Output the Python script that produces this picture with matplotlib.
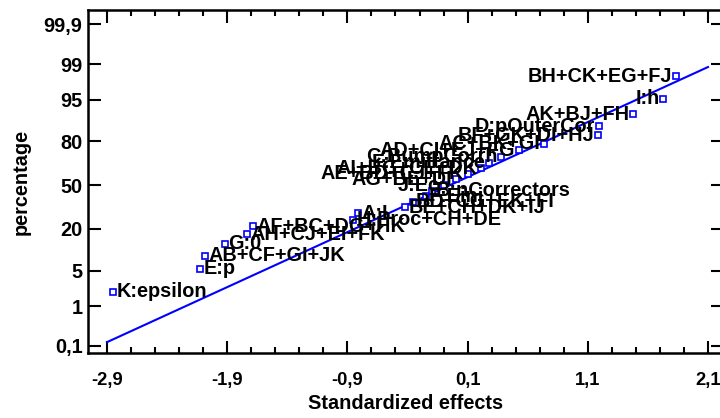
import math
import numpy as np
import matplotlib
matplotlib.use("Agg")
import matplotlib.pyplot as plt
from matplotlib.ticker import MultipleLocator, NullLocator

# ---------------- data ----------------
effects = [-2.85, -2.125, -2.083, -1.917, -1.733, -1.683, -0.85, -0.808,
           -0.417, -0.358, -0.25, -0.192, -0.10, 0.0, 0.10, 0.208, 0.275,
           0.375, 0.525, 0.733, 1.183, 1.19, 1.475, 1.725, 1.833]
percents = [2.0, 5.4, 8.7, 12.9, 17.1, 21.3, 25.3, 29.3, 33.4, 37.4, 41.5,
            45.5, 50.0, 54.5, 58.6, 62.6, 66.6, 70.7, 74.7, 78.8, 83.0,
            87.2, 91.3, 95.2, 98.2]
labels = ["K:epsilon", "E:p", "AB+CF+GI+JK", "G:0", "AH+CJ+EI+FK",
          "AF+BC+DG+HK", "H:Proc+CH+DE", "A:L", "BE+CH+DK+IJ",
          "BD+CG+EK+FI", "F:Einj", "B:nCorrectors", "J:Ec", "AG+BE+DI",
          "AE+BD+CJ+FK", "AI+BG+CE+DK", "F:Emittance", "C:BumpCorrh",
          "AD+CI+EJ+FG", "AC+BK+GI", "BF+GK+DI+HJ", "D:pOuterCor",
          "AK+BJ+FH", "I:h", "BH+CK+EG+FJ"]
line_x = [-2.9, 2.1]
line_pct = [0.126, 98.84]
x_ticks = [-2.9, -1.9, -0.9, 0.1, 1.1, 2.1]
y_ticks = [0.1, 1, 5, 20, 50, 80, 95, 99, 99.9]
x_label = "Standardized effects"
y_label = "percentage"

# ---------------- normal probability scale ----------------
_a = [-3.969683028665376e+01, 2.209460984245205e+02, -2.759285104469687e+02,
      1.383577518672690e+02, -3.066479806614716e+01, 2.506628277459239e+00]
_b = [-5.447609879822406e+01, 1.615858368580409e+02, -1.556989798598866e+02,
      6.680131188771972e+01, -1.328068155288572e+01]
_c = [-7.784894002430293e-03, -3.223964580411365e-01, -2.400758277161838e+00,
      -2.549732539343734e+00, 4.374664141464968e+00, 2.938163982698783e+00]
_d = [7.784695709041462e-03, 3.224671290700398e-01, 2.445134137142996e+00,
      3.754408661907416e+00]


def _ppf(p):
    p = np.clip(np.asarray(p, dtype=float), 1e-12, 1 - 1e-12)
    plow = 0.02425
    out = np.empty_like(p)
    lo = p < plow
    hi = p > 1 - plow
    mid = ~(lo | hi)
    q = np.sqrt(-2 * np.log(p[lo]))
    out[lo] = (((((_c[0]*q+_c[1])*q+_c[2])*q+_c[3])*q+_c[4])*q+_c[5]) / \
              ((((_d[0]*q+_d[1])*q+_d[2])*q+_d[3])*q+1)
    q = p[mid] - 0.5
    r = q * q
    out[mid] = (((((_a[0]*r+_a[1])*r+_a[2])*r+_a[3])*r+_a[4])*r+_a[5])*q / \
               (((((_b[0]*r+_b[1])*r+_b[2])*r+_b[3])*r+_b[4])*r+1)
    q = np.sqrt(-2 * np.log(1 - p[hi]))
    out[hi] = -(((((_c[0]*q+_c[1])*q+_c[2])*q+_c[3])*q+_c[4])*q+_c[5]) / \
               ((((_d[0]*q+_d[1])*q+_d[2])*q+_d[3])*q+1)
    return out


_erf = np.vectorize(math.erf)


def fwd(pct):
    return _ppf(np.asarray(pct, dtype=float) / 100.0)


def inv(z):
    z = np.asarray(z, dtype=float)
    return 50.0 * (1 + _erf(z / math.sqrt(2)))


# ---------------- figure ----------------
FS = 14.3
plt.rcParams["font.family"] = ["Liberation Sans", "DejaVu Sans"]
plt.rcParams["font.weight"] = "bold"
fig = plt.figure(figsize=(7.2, 4.18), dpi=100)
ax = fig.add_axes([88/720, 65/418, (723 - 88)/720, 343/418])
ax.set_yscale("function", functions=(fwd, inv))

ax.plot(line_x, line_pct, color="#0000ff", lw=1.5, zorder=2)
ax.plot(effects, percents, "s", ms=4.3, mfc="white", mec="#0000ff",
        mew=1.2, zorder=3)
for xv, pv, lab in zip(effects, percents, labels):
    if pv < 50:
        ax.annotate(lab, (xv, pv), xytext=(2.5, 0), textcoords="offset points",
                    ha="left", va="center", fontsize=FS, fontweight="bold",
                    zorder=4, annotation_clip=False)
    else:
        ax.annotate(lab, (xv, pv), xytext=(-2.5, 0), textcoords="offset points",
                    ha="right", va="center", fontsize=FS, fontweight="bold",
                    zorder=4, annotation_clip=False)

ax.set_xlim(-3.058, 2.225)
ax.set_ylim(0.062, 99.962)
ax.set_xticks(x_ticks)
ax.set_xticklabels([f"{v:.1f}".replace(".", ",") for v in x_ticks])
ax.xaxis.set_minor_locator(MultipleLocator(0.2, offset=0.1))
ax.set_yticks(y_ticks)
ax.set_yticklabels([(f"{v:g}").replace(".", ",") for v in y_ticks])
ax.yaxis.set_minor_locator(NullLocator())

ax.tick_params(which="both", direction="in", top=True, right=True,
               labelsize=FS, width=1.5)
ax.tick_params(which="major", length=9)
ax.tick_params(which="minor", length=4)
ax.tick_params(axis="x", which="major", pad=14, labelsize=13.2)
ax.tick_params(axis="y", which="major", pad=4)
for s in ax.spines.values():
    s.set_linewidth(1.8)

ax.set_xlabel(x_label, fontsize=FS, fontweight="bold", labelpad=3)
ax.set_ylabel(y_label, fontsize=FS, fontweight="bold", labelpad=9)

fig.savefig("out.png", dpi=100)
